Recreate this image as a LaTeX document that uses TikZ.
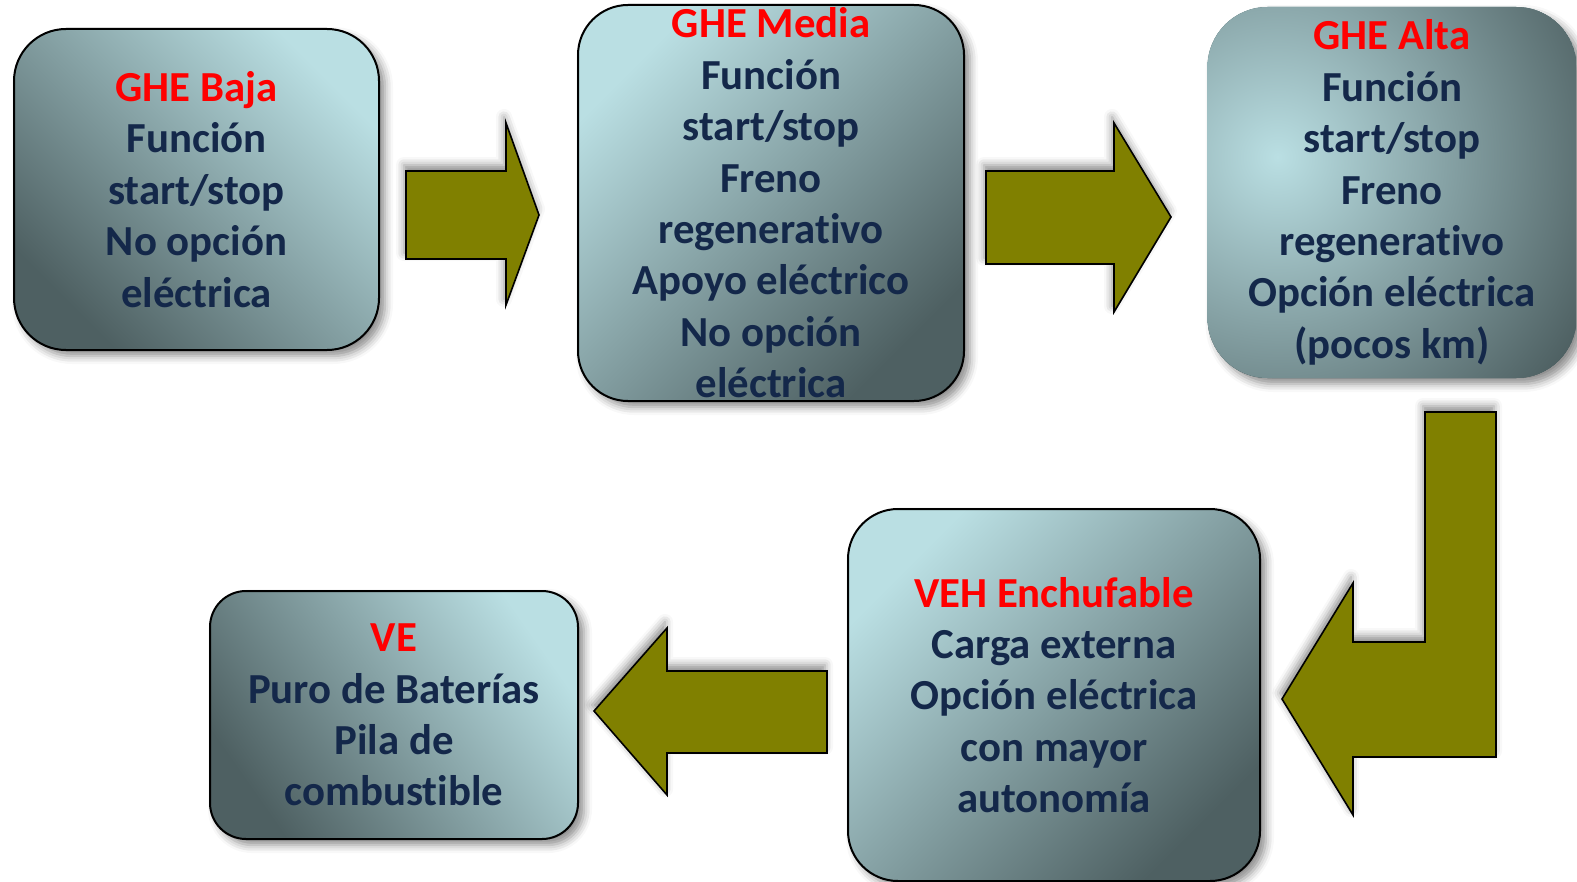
\documentclass[tikz,border=0pt]{standalone}
\usepackage{fontspec}
\setmainfont{Carlito}[Ligatures=NoCommon]
\usepackage{tikz}
\usetikzlibrary{calc,shadows.blur}

\definecolor{boxlight}{RGB}{186,223,227}
\definecolor{boxdark}{RGB}{78,96,98}
\definecolor{textnavy}{RGB}{20,40,74}
\definecolor{arrowolive}{RGB}{128,128,0}
\definecolor{titlered}{RGB}{255,0,0}

\tikzset{
  softshadow/.style={blur shadow={shadow xshift=3pt, shadow yshift=-3pt, shadow blur radius=4pt, shadow opacity=45}},
  stagebox/.style={draw=black, line width=1pt, inner sep=0pt, align=center,
    text=textnavy, font=\fontsize{21.4}{25.7}\selectfont\bfseries,
    top color=boxlight, bottom color=boxdark, softshadow},
  blockarrow/.style={draw=black, line width=0.8pt, fill=arrowolive, line join=miter,
    blur shadow={shadow xshift=-1pt, shadow yshift=3pt, shadow blur radius=4pt, shadow opacity=45}},
}
\newcommand{\titulo}[1]{\textcolor{titlered}{#1}}
% keeps t and i apart (no ligature)
\newcommand{\tsep}{t\kern0pt}

\begin{document}
\begin{tikzpicture}[x=0.5pt, y=-0.5pt]
\useasboundingbox (0,0) rectangle (1577,882);
% stages
\node[stagebox, minimum width=182.5pt, minimum height=160.5pt, rounded corners=26pt, shading angle=-45] (baja) at (196.5,189.5)
  {\titulo{GHE Baja}\\Función\\start/stop\\No opción\\eléctrica};
\node[stagebox, minimum width=193pt, minimum height=198pt, rounded corners=25pt, shading angle=45] (media) at (771,203)
  {\titulo{GHE Media}\\Función\\start/stop\\Freno\\regenera\tsep ivo\\Apoyo eléctrico\\No opción\\eléctrica};
\node[stagebox, draw=none, minimum width=184.5pt, minimum height=185.5pt, rounded corners=30pt,
  path picture={\fill[boxdark] (path picture bounding box.south west) rectangle (path picture bounding box.north east);
    \shade[inner color=boxlight, outer color=boxdark]
    ($(path picture bounding box.north west)+(35pt,-75pt)$) circle (175pt);}] (alta) at (1392,192.5)
  {\titulo{GHE Alta}\\Función\\start/stop\\Freno\\regenera\tsep ivo\\Opción eléctrica\\(pocos km)};
\node[stagebox, minimum width=206pt, minimum height=186pt, rounded corners=25pt, shading angle=45] (veh) at (1054,695)
  {\titulo{VEH Enchufable}\\Carga externa\\Opción eléctrica\\con mayor\\autonomía};
\node[stagebox, minimum width=184pt, minimum height=124pt, rounded corners=18pt, shading angle=-55] (ve) at (394,715)
  {\titulo{VE}\\Puro de Baterías\\Pila de\\combus\tsep ible};
% block arrows
\draw[blockarrow] (406,171) -- (506,171) -- (506,123) -- (539,215) -- (506,305) -- (506,259) -- (406,259) -- cycle;
\draw[blockarrow] (986,171) -- (1114,171) -- (1114,123) -- (1171,217) -- (1114,312) -- (1114,264) -- (986,264) -- cycle;
\draw[blockarrow] (1425,412) -- (1496,412) -- (1496,757) -- (1353,757) -- (1353,815) -- (1282,699) -- (1353,583) -- (1353,642) -- (1425,642) -- cycle;
\draw[blockarrow] (827,671) -- (667,671) -- (667,628) -- (594,711) -- (667,795) -- (667,753) -- (827,753) -- cycle;
\end{tikzpicture}
\end{document}
